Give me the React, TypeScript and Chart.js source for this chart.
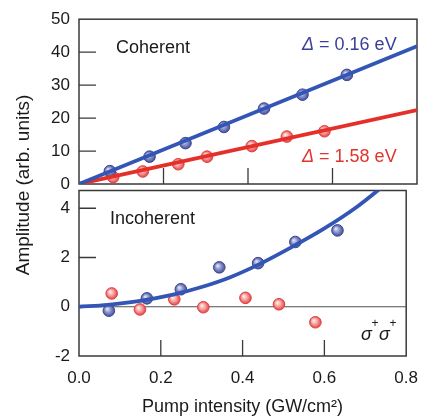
import React, { useEffect, useRef } from 'react';
import { Chart, registerables } from 'chart.js';

Chart.register(...registerables);

const FONT = "'Liberation Sans', Arial, Helvetica, sans-serif";

// ---------- Data: Coherent (top panel) ----------
const cohBlueX = [0.073, 0.167, 0.252, 0.343, 0.438, 0.529, 0.634];
const cohBlueY = [3.9, 8.3, 12.4, 17.3, 22.9, 27.1, 33.1];
const cohRedX = [0.081, 0.151, 0.235, 0.303, 0.409, 0.492, 0.581];
const cohRedY = [2.1, 3.8, 6.0, 8.3, 11.5, 14.4, 16.0];
const cohFitX = [0, 0.8];
const cohFitBlueY = [0, 41.8];
const cohFitRedY = [0, 22.4];

// ---------- Data: Incoherent (bottom panel) ----------
const incBlueX = [0.073, 0.166, 0.249, 0.343, 0.438, 0.529, 0.632];
const incBlueY = [-0.16, 0.34, 0.71, 1.6, 1.77, 2.63, 3.1];
const incRedX = [0.08, 0.149, 0.233, 0.304, 0.407, 0.489, 0.578];
const incRedY = [0.54, -0.11, 0.3, -0.02, 0.36, 0.1, -0.63];
const incFitX = [0, 0.07, 0.15, 0.23, 0.3, 0.37, 0.44, 0.52, 0.6, 0.68, 0.75];
const incFitY = [0, 0.08, 0.24, 0.49, 0.8, 1.2, 1.72, 2.42, 3.18, 4.06, 4.98];

// ---------- Ticks / labels ----------
const xTickValues = [0, 0.2, 0.4, 0.6, 0.8];
const xTickLabels = ['0.0', '0.2', '0.4', '0.6', '0.8'];
const xInnerTicks = [0.2, 0.4, 0.6];
const topYTicks = [0, 10, 20, 30, 40, 50];
const topYInnerTicks = [10, 20, 30, 40];
const botYTicks = [-2, 0, 2, 4];
const botYInnerTicks = [2, 4];

const xTitle = 'Pump intensity (GW/cm²)';
const yTitle = 'Amplitude (arb. units)';
const topLabel = 'Coherent';
const botLabel = 'Incoherent';
const blueDelta = ' = 0.16 eV';
const redDelta = ' = 1.58 eV';

const BLUE_LINE = '#3355b5';
const RED_LINE = '#e5302a';
const BLUE_TEXT = '#3b3f98';
const RED_TEXT = '#e0342c';
const AXIS = '#3a3a3a';

const pts = (xs: number[], ys: number[]) => xs.map((x, i) => ({ x, y: ys[i] }));

const sphere = (c0: string, c1: string, c2: string) => (ctx: any) => {
  if (ctx.type !== 'data' || !ctx.raw) return c1;
  const chart = ctx.chart;
  const sx = chart.scales && chart.scales.x;
  const sy = chart.scales && chart.scales.y;
  if (!sx || !sy) return c1;
  const px = sx.getPixelForValue(ctx.raw.x);
  const py = sy.getPixelForValue(ctx.raw.y);
  if (!Number.isFinite(px) || !Number.isFinite(py)) return c1;
  const g = chart.ctx.createRadialGradient(px - 1.8, py - 1.8, 0.3, px, py, 6.2);
  g.addColorStop(0, c0);
  g.addColorStop(0.5, c1);
  g.addColorStop(1, c2);
  return g;
};

const blueBall = sphere('#e4e7f6', '#848ec6', '#3c4896');
const redBall = sphere('#fff0f0', '#f59c9c', '#e23838');

const framePlugin = (yInner: number[], zero: boolean) => ({
  id: 'frame',
  beforeDatasetsDraw(chart: any) {
    const { ctx, chartArea: a, scales } = chart;
    ctx.save();
    ctx.strokeStyle = AXIS;
    ctx.lineWidth = 1.5;
    ctx.strokeRect(a.left, a.top, a.right - a.left, a.bottom - a.top);
    ctx.lineWidth = 1.3;
    ctx.beginPath();
    for (const v of xInnerTicks) {
      const x = scales.x.getPixelForValue(v);
      ctx.moveTo(x, a.bottom);
      ctx.lineTo(x, a.bottom - 16);
    }
    for (const v of yInner) {
      const y = scales.y.getPixelForValue(v);
      ctx.moveTo(a.left, y);
      ctx.lineTo(a.left + 17, y);
    }
    ctx.stroke();
    if (zero) {
      const y0 = scales.y.getPixelForValue(0);
      ctx.strokeStyle = '#505050';
      ctx.lineWidth = 1.2;
      ctx.beginPath();
      ctx.moveTo(a.left, y0);
      ctx.lineTo(a.right, y0);
      ctx.stroke();
    }
    ctx.restore();
  },
});

function drawDelta(ctx: CanvasRenderingContext2D, rest: string, x: number, y: number, color: string) {
  ctx.fillStyle = color;
  ctx.textAlign = 'left';
  ctx.textBaseline = 'middle';
  ctx.font = `italic 18px ${FONT}`;
  ctx.fillText('Δ', x, y);
  const w = ctx.measureText('Δ').width;
  ctx.font = `18px ${FONT}`;
  ctx.fillText(rest, x + w, y);
}

const topTextPlugin = {
  id: 'topText',
  afterDraw(chart: any) {
    const { ctx } = chart;
    ctx.save();
    ctx.fillStyle = '#1a1a1a';
    ctx.font = `18px ${FONT}`;
    ctx.textAlign = 'left';
    ctx.textBaseline = 'middle';
    ctx.fillText(topLabel, 116, 48);
    drawDelta(ctx, blueDelta, 302, 45, BLUE_TEXT);
    drawDelta(ctx, redDelta, 302, 157, RED_TEXT);
    ctx.translate(24, 185);
    ctx.rotate(-Math.PI / 2);
    ctx.fillStyle = '#1a1a1a';
    ctx.font = `19px ${FONT}`;
    ctx.textAlign = 'center';
    ctx.textBaseline = 'middle';
    ctx.fillText(yTitle, 0, 0);
    ctx.restore();
  },
};

const botTextPlugin = {
  id: 'botText',
  afterDraw(chart: any) {
    const { ctx } = chart;
    ctx.save();
    ctx.fillStyle = '#1a1a1a';
    ctx.font = `18px ${FONT}`;
    ctx.textAlign = 'left';
    ctx.textBaseline = 'middle';
    ctx.fillText(botLabel, 110, 219);
    ctx.textBaseline = 'alphabetic';
    ctx.font = `italic 18px ${FONT}`;
    ctx.fillText('σ', 361, 340);
    ctx.fillText('σ', 379, 340);
    ctx.font = `12px ${FONT}`;
    ctx.textAlign = 'center';
    ctx.textBaseline = 'middle';
    ctx.fillText('+', 375, 324);
    ctx.fillText('+', 393, 324);
    ctx.restore();
  },
};

const tickFont = { family: FONT, size: 17 };

export default function App() {
  const topRef = useRef<HTMLCanvasElement>(null);
  const botRef = useRef<HTMLCanvasElement>(null);

  useEffect(() => {
    const pointDs = (data: any, bg: any, border: string) => ({
      type: 'scatter' as const,
      data,
      showLine: false,
      pointRadius: 5.8,
      pointBorderWidth: 1,
      pointBackgroundColor: bg,
      pointBorderColor: border,
      pointHoverRadius: 5.8,
    });
    const lineDs = (data: any, color: string, tension = 0) => ({
      type: 'line' as const,
      data,
      borderColor: color,
      borderWidth: 3.8,
      pointRadius: 0,
      fill: false,
      tension,
      cubicInterpolationMode: tension ? ('monotone' as const) : ('default' as const),
    });

    const top = new Chart(topRef.current!, {
      type: 'scatter',
      data: {
        datasets: [
          lineDs(pts(cohFitX, cohFitBlueY), BLUE_LINE),
          lineDs(pts(cohFitX, cohFitRedY), RED_LINE),
          pointDs(pts(cohBlueX, cohBlueY), blueBall, '#3a4690'),
          pointDs(pts(cohRedX, cohRedY), redBall, '#e0403c'),
        ] as any,
      },
      options: {
        responsive: false,
        animation: false,
        events: [],
        layout: { padding: { left: 0, right: 13, top: 18.7, bottom: 234 } },
        plugins: { legend: { display: false }, tooltip: { enabled: false } },
        scales: {
          x: { type: 'linear', min: 0, max: 0.8, display: false },
          y: {
            type: 'linear',
            min: 0,
            max: 50,
            afterBuildTicks: (s: any) => {
              s.ticks = topYTicks.map((v) => ({ value: v }));
            },
            afterFit: (s: any) => {
              s.width = 79;
            },
            ticks: { font: tickFont, color: '#1a1a1a', padding: 9 },
            grid: { display: false, drawTicks: false },
            border: { display: false },
          },
        },
      },
      plugins: [framePlugin(topYInnerTicks, false), topTextPlugin],
    });

    const bot = new Chart(botRef.current!, {
      type: 'scatter',
      data: {
        datasets: [
          lineDs(pts(incFitX, incFitY), BLUE_LINE, 0.4),
          pointDs(pts(incBlueX, incBlueY), blueBall, '#3a4690'),
          pointDs(pts(incRedX, incRedY), redBall, '#e0403c'),
        ] as any,
      },
      options: {
        responsive: false,
        animation: false,
        events: [],
        layout: { padding: { left: 0, right: 13, top: 190.5, bottom: 0 } },
        plugins: { legend: { display: false }, tooltip: { enabled: false } },
        scales: {
          x: {
            type: 'linear',
            min: 0,
            max: 0.8,
            afterBuildTicks: (s: any) => {
              s.ticks = xTickValues.map((v) => ({ value: v }));
            },
            afterFit: (s: any) => {
              s.height = 62;
            },
            ticks: {
              font: tickFont,
              color: '#1a1a1a',
              padding: 12,
              autoSkip: false,
              maxRotation: 0,
              callback: (_v: any, i: number) => xTickLabels[i],
            },
            grid: { display: false, drawTicks: false },
            border: { display: false },
            title: {
              display: true,
              text: xTitle,
              color: '#1a1a1a',
              font: { family: FONT, size: 18 },
              padding: { top: 4, bottom: 0 },
            },
          },
          y: {
            type: 'linear',
            min: -2,
            max: 4.72,
            afterBuildTicks: (s: any) => {
              s.ticks = botYTicks.map((v) => ({ value: v }));
            },
            afterFit: (s: any) => {
              s.width = 79;
            },
            ticks: { font: tickFont, color: '#1a1a1a', padding: 9 },
            grid: { display: false, drawTicks: false },
            border: { display: false },
          },
        },
      },
      plugins: [framePlugin(botYInnerTicks, true), botTextPlugin],
    });

    return () => {
      top.destroy();
      bot.destroy();
    };
  }, []);

  return (
    <div style={{ position: 'fixed', left: 0, top: 0, width: 430, height: 418, background: '#fff' }}>
      <canvas ref={botRef} width={430} height={418} style={{ position: 'absolute', left: 0, top: 0 }} />
      <canvas ref={topRef} width={430} height={418} style={{ position: 'absolute', left: 0, top: 0 }} />
    </div>
  );
}
